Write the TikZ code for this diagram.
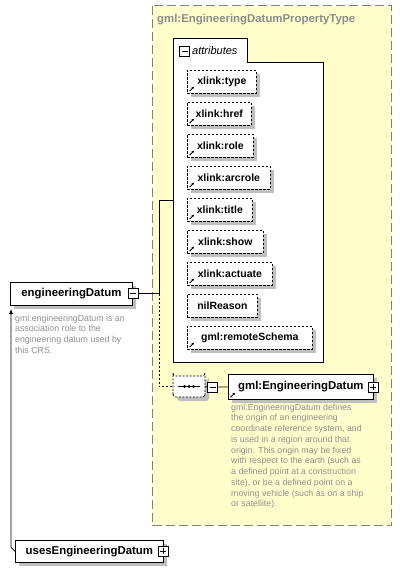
\documentclass[tikz,border=0pt]{standalone}
\usepackage{fontspec}
\setmainfont{Liberation Sans}
\usetikzlibrary{shadows,shapes.misc,arrows.meta,calc}
\definecolor{yel}{HTML}{FFFFCC}
\definecolor{titlegray}{HTML}{8C8C8C}
\definecolor{descgray}{HTML}{909090}
\definecolor{shadgray}{HTML}{BFBFBF}
\tikzset{
  shad/.style={drop shadow={shadow xshift=4pt,shadow yshift=-4pt,fill=shadgray,opacity=1}},
  elem/.style={draw, fill=white, line width=0.8pt, shad, font=\bfseries\fontsize{11.4}{13}\selectfont, minimum height=23pt, inner sep=0pt, anchor=north west},
  attr/.style={draw, fill=white, line width=0.7pt, dash pattern=on 2.5pt off 1.5pt, shad, font=\bfseries\fontsize{10.5}{12}\selectfont, minimum height=23pt, inner sep=0pt, anchor=north west},
  pm/.style={draw, fill=white, line width=0.9pt, minimum size=10pt, inner sep=0pt},
  minusbox/.style={pm, path picture={\draw[solid, line width=0.9pt] ([xshift=-3pt]path picture bounding box.center) -- ([xshift=3pt]path picture bounding box.center);}},
  plusbox/.style={pm, path picture={\draw[solid, line width=0.9pt] ([xshift=-3pt]path picture bounding box.center) -- ([xshift=3pt]path picture bounding box.center) ([yshift=-3pt]path picture bounding box.center) -- ([yshift=3pt]path picture bounding box.center);}},
  desctext/.style={anchor=north west, align=left, text=descgray, font=\fontsize{8.8}{10.75}\selectfont, inner sep=0pt},
  conn/.style={line width=0.8pt},
  opt/.style={line width=0.8pt, dash pattern=on 2pt off 2pt},
  refarrow/.style={solid, line width=0.8pt, -{Stealth[length=2.6pt,width=2.6pt]}},
  seqbox/.style={chamfered rectangle, chamfered rectangle xsep=5pt, rounded corners=3pt, draw, fill=white, line width=0.7pt, dash pattern=on 2pt off 1.5pt, shad, minimum width=32pt, minimum height=21pt, inner sep=0pt},
}
\begin{document}
\begin{tikzpicture}[x=1pt,y=-1pt]
\useasboundingbox (0,0) rectangle (403,573);
\fill[white] (0,0) rectangle (403,573);
% complex type frame
\draw[draw=gray, fill=yel, line width=1pt, dash pattern=on 9pt off 4pt] (152.5,5.5) rectangle (391.5,525.5);
\node[anchor=base west, inner sep=0pt, text=titlegray, font=\bfseries\fontsize{11.4}{13}\selectfont] (title) at (157,22) {gml:EngineeringDatumPropertyType};
% attributes group
\draw[fill=white, line width=0.8pt] (173,38) -- (247,38) -- (247,62) -- (323,62) -- (323,362) -- (173,362) -- cycle;
\coordinate (attrin) at (173,200);
\node[minusbox] (attrminus) at (184.5,51) {};
\node[anchor=west, inner sep=0pt, font=\itshape\fontsize{11}{13}\selectfont] (attrlabel) at (192,51) {attributes};
% attributes
\node[attr, minimum width=69pt] (a1) at (187,70) {xlink:type};
\node[attr, minimum width=64pt] (a2) at (187,102) {xlink:href};
\node[attr, minimum width=66pt] (a3) at (187,134) {xlink:role};
\node[attr, minimum width=83pt] (a4) at (187,166) {xlink:arcrole};
\node[attr, minimum width=65pt] (a5) at (187,198) {xlink:title};
\node[attr, minimum width=76pt] (a6) at (187,230) {xlink:show};
\node[attr, minimum width=85pt] (a7) at (187,262) {xlink:actuate};
\node[attr, minimum width=70pt] (a8) at (187,294) {nilReason};
\node[attr, minimum width=125pt] (a9) at (187,326) {gml:remoteSchema};
\foreach \n in {a1,a2,a3,a4,a5,a6,a7,a9}
  \draw[refarrow] ($(\n.south west)+(2.5,-2.5)$) -- ++(4.5,-4.5);
% root element
\node[elem, minimum width=122pt] (ed) at (10,282) {engineeringDatum};
\node[minusbox] (edminus) at (133,293.5) {};
\coordinate (jn) at (159,293.5);
\draw[conn] (edminus.east) -- (jn);
\draw[conn] (jn) |- (attrin);
% sequence
\node[seqbox] (seq) at (189,386.5) {};
\draw[line width=0.9pt] ($(seq.center)+(-11,0)$) -- ($(seq.center)+(11,0)$);
\foreach \dx in {-4.5,0,4.5}
  \fill ($(seq.center)+(\dx,0)$) circle (1.6pt);
\draw[opt] (jn) |- (seq.west);
\node[minusbox] (seqminus) at (212.5,387) {};
\draw[conn] (seq.east) -- (seqminus.west);
% referenced element
\node[elem, minimum width=145pt, minimum height=25pt] (ged) at (228,374) {gml:EngineeringDatum};
\node[plusbox] (gedplus) at (373,387) {};
\draw[conn] (seqminus.east) -- (ged.west);
\draw[refarrow] ($(ged.south west)+(2.5,-2.5)$) -- ++(4.5,-4.5);
\node[desctext] (geddesc) at (231,403.6) {gml:EngineeringDatum defines\\the origin of an engineering\\coordinate reference system, and\\is used in a region around that\\origin. This origin may be fixed\\with respect to the earth (such as\\a defined point at a construction\\site), or be a defined point on a\\moving vehicle (such as on a ship\\or satellite).};
\node[desctext] (eddesc) at (15,314.6) {gml:engineeringDatum is an\\association role to the\\engineering datum used by\\this CRS.};
% substitution
\node[elem, minimum width=148pt, minimum height=22pt] (uses) at (15,540) {usesEngineeringDatum};
\node[plusbox] (usesplus) at (163,551) {};
\coordinate (subtip) at (11,309);
\draw[conn, -{Latex[length=5pt,width=4pt]}] (uses.west) -- ++(-4,-4) -- (subtip);
\end{tikzpicture}
\end{document}
